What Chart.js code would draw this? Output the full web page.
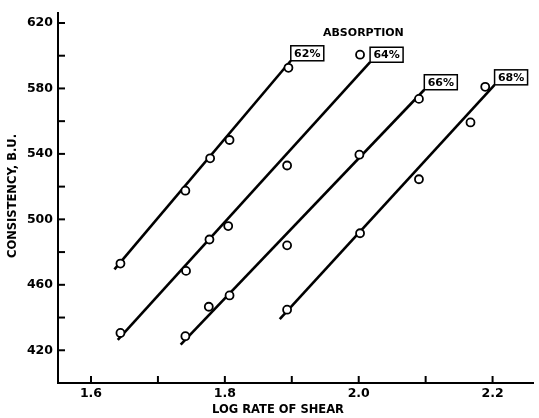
<!DOCTYPE html>
<html><head><meta charset="utf-8">
<script src="https://cdn.jsdelivr.net/npm/chart.js@4"></script>
<style>html,body{margin:0;padding:0;background:#fff}</style>
</head><body>
<canvas id="c" width="539" height="418" style="display:block"></canvas>
<script>
// ---- data ----
const seriesLabels = ['62%', '64%', '66%', '68%'];
const x62 = [1.644, 1.741, 1.778, 1.807, 1.895];
const y62 = [473.0, 517.5, 537.3, 548.5, 592.6];
const x64 = [1.644, 1.742, 1.777, 1.805, 1.893, 2.002];
const y64 = [430.6, 468.5, 487.7, 495.9, 532.9, 600.6];
const x66 = [1.741, 1.776, 1.807, 1.893, 2.001, 2.090];
const y66 = [428.6, 446.6, 453.5, 484.1, 539.5, 573.6];
const x68 = [1.893, 2.002, 2.090, 2.167, 2.189];
const y68 = [444.8, 491.5, 524.5, 559.2, 581.0];
// fitted lines (start, end) as drawn in the figure
const lineX62 = [1.635, 1.8985];
const lineY62 = [469.4, 596.9];
const lineX64 = [1.640, 2.017];
const lineY64 = [426.4, 596.0];
const lineX66 = [1.734, 2.098];
const lineY66 = [423.4, 579.2];
const lineX68 = [1.882, 2.203];
const lineY68 = [439.0, 582.2];
// ticks
const xTickLabels = ['1.6', '1.8', '2.0', '2.2'];
const xTickMarks = [1.6, 1.7, 1.8, 1.9, 2.0, 2.1, 2.2];
const yTickLabels = ['420', '460', '500', '540', '580', '620'];
const yTickMarks = [420, 440, 460, 480, 500, 520, 540, 560, 580, 600, 620];
const titleText = 'ABSORPTION';
const xTitle = 'LOG RATE OF SHEAR';
const yTitle = 'CONSISTENCY, B.U.';

const FONT = '"DejaVu Sans", "Liberation Sans", sans-serif';
const series = [
  {label: seriesLabels[0], xs: x62, ys: y62, lx: lineX62, ly: lineY62},
  {label: seriesLabels[1], xs: x64, ys: y64, lx: lineX64, ly: lineY64},
  {label: seriesLabels[2], xs: x66, ys: y66, lx: lineX66, ly: lineY66},
  {label: seriesLabels[3], xs: x68, ys: y68, lx: lineX68, ly: lineY68},
];
const datasets = [];
series.forEach(s => {
  datasets.push({
    label: s.label + ' line',
    data: s.lx.map((v, i) => ({x: v, y: s.ly[i]})),
    showLine: true, borderColor: '#000', borderWidth: 2.6,
    pointRadius: 0, order: 2
  });
  datasets.push({
    label: s.label,
    data: s.xs.map((v, i) => ({x: v, y: s.ys[i]})),
    showLine: false, pointRadius: 4, pointStyle: 'circle',
    pointBackgroundColor: '#fff', pointBorderColor: '#000', pointBorderWidth: 1.8,
    order: 1
  });
});

const decor = {
  id: 'decor',
  afterDraw(chart) {
    const {ctx, chartArea: a, scales: {x, y}} = chart;
    ctx.save();
    ctx.strokeStyle = '#000';
    ctx.lineWidth = 2;
    yTickMarks.forEach(v => {
      const py = y.getPixelForValue(v);
      ctx.beginPath(); ctx.moveTo(a.left, py); ctx.lineTo(a.left + 7, py); ctx.stroke();
    });
    xTickMarks.forEach(v => {
      const px = x.getPixelForValue(v);
      ctx.beginPath(); ctx.moveTo(px, a.bottom); ctx.lineTo(px, a.bottom - 7); ctx.stroke();
    });
    // boxed series labels at line ends
    series.forEach(s => {
      const px = x.getPixelForValue(s.lx[1]);
      const py = y.getPixelForValue(s.ly[1]);
      const w = 33, h = 15;
      ctx.fillStyle = '#fff';
      ctx.fillRect(px, py - h, w, h);
      ctx.lineWidth = 1.5;
      ctx.strokeRect(px, py - h, w, h);
      ctx.fillStyle = '#000';
      ctx.font = 'bold 11px ' + FONT;
      ctx.textAlign = 'center'; ctx.textBaseline = 'middle';
      ctx.fillText(s.label, px + w / 2, py - h / 2 + 0.5);
    });
    // ABSORPTION heading
    ctx.fillStyle = '#000';
    ctx.font = 'bold 11px ' + FONT;
    ctx.textAlign = 'center'; ctx.textBaseline = 'middle';
    ctx.fillText(titleText, x.getPixelForValue(2.007), y.getPixelForValue(614));
    // axis titles
    ctx.font = 'bold 11.5px ' + FONT;
    ctx.fillText(xTitle, a.left + 220, 410);
    ctx.save();
    ctx.translate(13.5, 196);
    ctx.rotate(-Math.PI / 2);
    ctx.fillText(yTitle, 0, 0);
    ctx.restore();
    ctx.restore();
  }
};

new Chart(document.getElementById('c'), {
  type: 'scatter',
  data: {datasets},
  options: {
    responsive: false, animation: false,
    layout: {padding: {top: 6, right: 1, left: 0, bottom: 0}},
    plugins: {legend: {display: false}, tooltip: {enabled: false}},
    scales: {
      x: {
        type: 'linear', min: 1.5507, max: 2.2607,
        grid: {display: false, drawTicks: false},
        border: {display: true, color: '#000', width: 2},
        afterFit(s) { s.height = 35; },
        afterBuildTicks(s) { s.ticks = xTickLabels.map(t => ({value: parseFloat(t)})); },
        ticks: {
          color: '#000', padding: 3, maxRotation: 0, autoSkip: false,
          font: {family: FONT, size: 12.5, weight: 'bold'},
          callback: (v) => xTickLabels.find(t => Math.abs(parseFloat(t) - v) < 1e-6) || ''
        }
      },
      y: {
        type: 'linear', min: 400, max: 626.4,
        grid: {display: false, drawTicks: false},
        border: {display: true, color: '#000', width: 2},
        afterFit(s) { s.width = 58; },
        afterBuildTicks(s) { s.ticks = yTickLabels.map(t => ({value: parseFloat(t)})); },
        ticks: {
          color: '#000', padding: 5, autoSkip: false,
          font: {family: FONT, size: 12.5, weight: 'bold'},
          callback: (v) => yTickLabels.find(t => Math.abs(parseFloat(t) - v) < 1e-6) || ''
        }
      }
    }
  },
  plugins: [decor]
});
</script>
</body></html>
